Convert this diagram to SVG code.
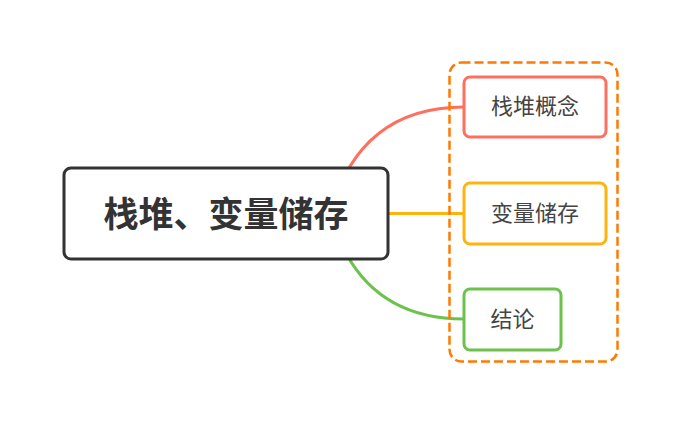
<svg xmlns="http://www.w3.org/2000/svg" width="680" height="425" viewBox="0 0 680 425">
<style>
.t{font-family:"Noto Sans CJK SC","Noto Sans",sans-serif;fill:#333;text-anchor:middle;dominant-baseline:central}
.s{fill:#444}
.c{fill:#fff;stroke-width:3}
.l{fill:none;stroke-width:3}
</style>
<rect width="680" height="425" fill="#fff"/>
<g id="connectors">
<path class="l" stroke="#FF6F5E" d="M330 213.5 Q360 107 464 107"/>
<path class="l" stroke="#FFB30F" d="M388 213.5 L464 213.5"/>
<path class="l" stroke="#6CC24A" d="M330 213.5 Q360 319 464 319"/>
</g>
<g id="group-box">
<rect x="449.5" y="62.5" width="168" height="299" rx="12" fill="none" stroke="#FF7A00" stroke-width="2.5" stroke-dasharray="9 4"/>
</g>
<g id="root">
<rect class="c" x="64" y="168" width="324" height="91" rx="7" stroke="#333"/>
<text class="t" x="226" y="211" font-size="35" font-weight="bold">栈堆、变量储存</text>
</g>
<g id="n1">
<rect class="c" x="464" y="77" width="142" height="60" rx="6" stroke="#FF6F5E"/>
<text class="t s" x="535" y="104" font-size="22">栈堆概念</text>
</g>
<g id="n2">
<rect class="c" x="464" y="183" width="142" height="61" rx="6" stroke="#FFB30F"/>
<text class="t s" x="535" y="210.5" font-size="22">变量储存</text>
</g>
<g id="n3">
<rect class="c" x="464" y="289" width="97" height="61" rx="6" stroke="#6CC24A"/>
<text class="t s" x="512.5" y="316.5" font-size="22">结论</text>
</g>
</svg>
